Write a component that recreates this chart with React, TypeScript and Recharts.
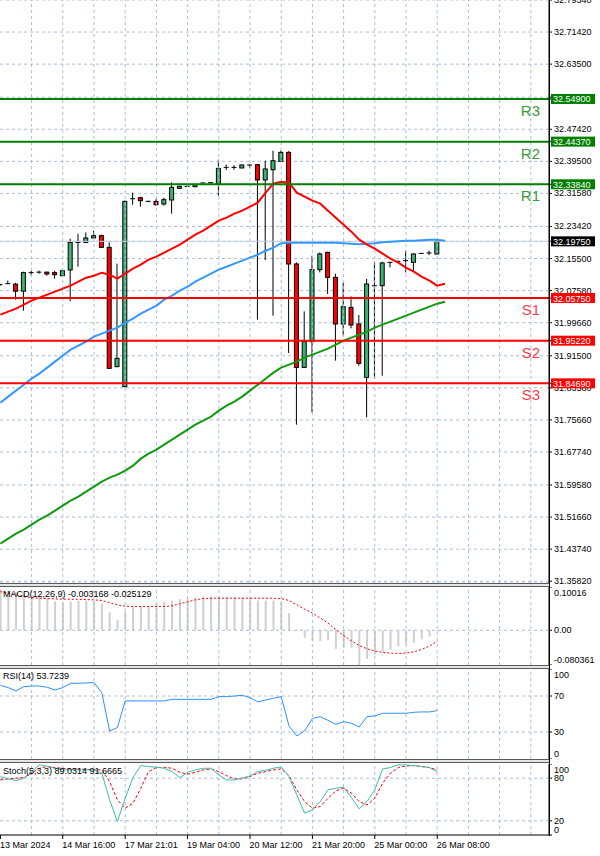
import React from 'react';
import { ComposedChart, Bar, Line, XAxis, YAxis, CartesianGrid, ReferenceLine } from 'recharts';

// ---------- categories / ticks ----------
const timeTickBars = [0, 8, 16, 24, 32, 40, 48, 56];
const timeTickLabels = ['13 Mar 2024', '14 Mar 16:00', '17 Mar 21:01', '19 Mar 04:00', '20 Mar 12:00', '21 Mar 20:00', '25 Mar 00:00', '26 Mar 08:00'];
const gridBars = [4, 8, 12, 16, 20, 24, 28, 32, 36, 40, 44, 48, 52, 56, 60, 64, 68];

// ---------- candles ----------
const openP = [32.0905, 32.0930, 32.0917, 32.0745, 32.1202, 32.1214, 32.1214, 32.1202, 32.1128, 32.1268,
  32.1949, 32.1949, 32.2058, 32.2115, 32.1826, 31.8881, 31.8387, 32.3028, 32.3053, 32.2962,
  32.2962, 32.2897, 32.2996, 32.3283, 32.3332, 32.3325, 32.3416, 32.3423, 32.3391, 32.3801,
  32.3801, 32.3786, 32.3860, 32.3868, 32.3490, 32.3744, 32.3949, 32.4172, 32.1416, 31.8863,
  31.9498, 32.1276, 32.1702, 32.1085, 31.9935, 32.0344, 31.9935, 31.8616, 32.0880, 32.0880,
  32.1456, 32.1480, 32.1498, 32.1456, 32.1678, 32.1688, 32.1663];
const highP = [32.0930, 32.1004, 32.0954, 32.1226, 32.1251, 32.1251, 32.1226, 32.1251, 32.1276, 32.2040,
  32.2164, 32.2196, 32.2238, 32.2139, 32.1949, 32.1424, 32.2979, 32.3176, 32.3077, 32.2979,
  32.3016, 32.3053, 32.3431, 32.3349, 32.3349, 32.3386, 32.3423, 32.3436, 32.3991, 32.3868,
  32.3855, 32.3880, 32.3868, 32.3880, 32.3967, 32.4213, 32.4213, 32.4201, 32.1456, 32.0246,
  32.1621, 32.1702, 32.1720, 32.1177, 32.0962, 32.0616, 32.0157, 32.1046, 32.1473, 32.1473,
  32.1461, 32.1498, 32.1744, 32.1670, 32.1683, 32.1744, 32.2016];
const lowP = [32.0880, 32.0920, 32.0535, 32.0263, 32.1128, 32.1177, 32.1128, 32.1053, 32.1103, 32.0493,
  32.1350, 32.1942, 32.2053, 32.1818, 31.8831, 31.8868, 31.8374, 32.2880, 32.2830, 32.2942,
  32.2856, 32.2856, 32.2658, 32.3275, 32.3312, 32.3312, 32.3406, 32.3411, 32.3102, 32.3737,
  32.3744, 32.3781, 32.3794, 32.0041, 32.1515, 32.0140, 32.3942, 31.9218, 31.7448, 31.8856,
  31.7752, 32.1209, 32.0675, 31.9029, 31.9646, 31.9826, 31.8905, 31.7629, 31.8592, 31.8658,
  32.1332, 32.1461, 32.1209, 32.1251, 32.1670, 32.1633, 32.1658];
const closeP = [32.0905, 32.0930, 32.0745, 32.1202, 32.1202, 32.1214, 32.1169, 32.1152, 32.1251, 32.1949,
  32.1949, 32.2058, 32.2115, 32.1826, 31.8839, 31.9086, 32.2962, 32.3028, 32.2979, 32.2962,
  32.2880, 32.3004, 32.3307, 32.3332, 32.3332, 32.3374, 32.3416, 32.3423, 32.3776, 32.3801,
  32.3801, 32.3860, 32.3860, 32.3490, 32.3762, 32.3967, 32.4172, 32.1416, 31.8863, 31.9498,
  32.1276, 32.1663, 32.1085, 31.9935, 32.0362, 31.9910, 31.8962, 32.0922, 32.0880, 32.1441,
  32.1456, 32.1480, 32.1498, 32.1663, 32.1678, 32.1688, 32.1975];

// ---------- moving averages ----------
const maRed = [32.0164, 32.0238, 32.0312, 32.0411, 32.0510, 32.0584, 32.0658, 32.0732, 32.0806, 32.0880,
  32.0979, 32.1078, 32.1127, 32.1201, 32.1152, 32.1053, 32.1177, 32.1300, 32.1399, 32.1522,
  32.1596, 32.1695, 32.1794, 32.1893, 32.2016, 32.2140, 32.2238, 32.2362, 32.2485, 32.2559,
  32.2658, 32.2732, 32.2831, 32.2930, 32.3177, 32.3399, 32.3448, 32.3423, 32.3177, 32.3078,
  32.2979, 32.2905, 32.2732, 32.2559, 32.2386, 32.2214, 32.2016, 32.1893, 32.1794, 32.1670,
  32.1547, 32.1448, 32.1325, 32.1226, 32.1103, 32.1004, 32.0880, 32.0930];
const maBlue = [31.7992, 31.8140, 31.8288, 31.8436, 31.8584, 31.8708, 31.8856, 31.9004, 31.9152, 31.9300,
  31.9399, 31.9498, 31.9621, 31.9695, 31.9769, 31.9843, 31.9967, 32.0066, 32.0189, 32.0288,
  32.0387, 32.0535, 32.0633, 32.0757, 32.0856, 32.0979, 32.1078, 32.1177, 32.1275, 32.1349,
  32.1424, 32.1498, 32.1572, 32.1646, 32.1744, 32.1819, 32.1930, 32.1942, 32.1942, 32.1942,
  32.1942, 32.1942, 32.1942, 32.1942, 32.1930, 32.1917, 32.1905, 32.1917, 32.1930, 32.1954,
  32.1967, 32.1979, 32.1991, 32.1991, 32.2004, 32.2016, 32.2016, 32.1991];
const maGreen = [31.4510, 31.4634, 31.4757, 31.4856, 31.4979, 31.5103, 31.5202, 31.5325, 31.5449, 31.5572,
  31.5671, 31.5794, 31.5918, 31.6041, 31.6140, 31.6214, 31.6313, 31.6436, 31.6609, 31.6732,
  31.6831, 31.6955, 31.7078, 31.7202, 31.7325, 31.7448, 31.7547, 31.7646, 31.7794, 31.7918,
  31.8016, 31.8140, 31.8288, 31.8436, 31.8584, 31.8732, 31.8856, 31.8930, 31.9004, 31.9103,
  31.9177, 31.9251, 31.9325, 31.9424, 31.9522, 31.9596, 31.9671, 31.9745, 31.9843, 31.9917,
  31.9992, 32.0066, 32.0140, 32.0214, 32.0288, 32.0362, 32.0436, 32.0485];

// ---------- MACD ----------
const macdMain = [0.0950, 0.0920, 0.0880, 0.0850, 0.0810, 0.0780, 0.0750, 0.0666, 0.0643, 0.0666,
  0.0681, 0.0681, 0.0681, 0.0612, 0.0413, 0.0230, 0.0436, 0.0536, 0.0551, 0.0566,
  0.0612, 0.0658, 0.0689, 0.0719, 0.0742, 0.0765, 0.0780, 0.0780, 0.0780, 0.0780,
  0.0780, 0.0765, 0.0742, 0.0689, 0.0689, 0.0689, 0.0666, 0.0398, 0.0015, -0.0176,
  -0.0252, -0.0252, -0.0230, -0.0429, -0.0405, -0.0405, -0.0804, -0.0660, -0.0560, -0.0500,
  -0.0460, -0.0370, -0.0345, -0.0290, -0.0210, -0.0145, -0.003168];
const macdSignal = [0.0895, 0.0857, 0.0819, 0.0780, 0.0757, 0.0742, 0.0734, 0.0727, 0.0719, 0.0719,
  0.0719, 0.0711, 0.0704, 0.0689, 0.0643, 0.0589, 0.0558, 0.0551, 0.0551, 0.0551,
  0.0551, 0.0551, 0.0566, 0.0612, 0.0658, 0.0704, 0.0734, 0.0742, 0.0742, 0.0742,
  0.0742, 0.0742, 0.0742, 0.0742, 0.0742, 0.0742, 0.0734, 0.0689, 0.0589, 0.0490,
  0.0398, 0.0283, 0.0168, 0.0015, -0.0122, -0.0245, -0.0352, -0.0428, -0.0482, -0.0513,
  -0.0528, -0.0536, -0.0528, -0.0497, -0.0444, -0.0367, -0.025129];

// ---------- RSI ----------
const rsiValues = [81.9, 79.3, 75.6, 80.4, 81.1, 81.1, 79.7, 76.7, 79.3, 84.1,
  84.1, 84.5, 84.9, 73.7, 31.1, 34.9, 64.5, 64.5, 64.5, 64.5,
  64.5, 64.5, 66.3, 66.3, 66.3, 66.3, 66.3, 66.3, 69.3, 69.3,
  70.0, 70.8, 68.2, 63.4, 65.6, 67.4, 69.3, 36.7, 25.6, 31.1,
  44.9, 47.1, 43.0, 38.6, 41.5, 39.7, 35.6, 47.1, 47.8, 50.8,
  50.8, 50.8, 50.8, 51.9, 52.3, 52.3, 53.7239];

// ---------- Stochastic ----------
const stochMain = [82.3, 79.0, 76.7, 80.0, 89.3, 98.7, 96.8, 94.0, 91.7, 91.7,
  91.7, 91.7, 91.7, 87.0, 49.5, 19.0, 51.8, 80.9, 97.8, 96.4,
  95.4, 94.0, 89.3, 80.9, 88.4, 91.7, 94.0, 94.0, 84.6, 77.6,
  77.6, 80.0, 83.2, 89.3, 91.2, 94.0, 95.9, 82.3, 56.5, 30.7,
  35.4, 47.1, 63.5, 65.9, 67.3, 52.8, 36.8, 47.1, 63.5, 93.1,
  95.0, 98.7, 98.7, 97.8, 96.4, 95.0, 89.0314];
const stochSignal = [77.6, 79.0, 80.0, 80.9, 87.0, 94.0, 96.4, 95.0, 94.0, 93.1,
  93.1, 92.6, 91.7, 91.7, 75.3, 49.5, 37.8, 44.8, 65.9, 89.3,
  95.0, 95.4, 94.0, 88.4, 85.6, 88.4, 91.7, 93.1, 89.3, 83.7,
  79.0, 79.0, 82.3, 87.0, 89.3, 91.7, 93.1, 83.7, 63.5, 47.1,
  37.8, 40.1, 51.8, 62.1, 65.9, 58.9, 47.1, 42.4, 51.8, 72.9,
  87.0, 95.0, 97.3, 97.8, 96.4, 95.0, 91.6665];

// ---------- axes / levels ----------
const priceTicks = [32.7934, 32.7142, 32.635, 32.5534, 32.4742, 32.395, 32.3158, 32.2342, 32.155, 32.0758,
  31.9966, 31.915, 31.8358, 31.7566, 31.6774, 31.5958, 31.5166, 31.4374, 31.3582];
const levelNames = ['R3', 'R2', 'R1', 'S1', 'S2', 'S3'];
const levelValues = [32.549, 32.4437, 32.3384, 32.0575, 31.9522, 31.8469];
const lastPrice = 32.1975;
const macdTicks = [0.10016, 0, -0.080361];
const macdTickLabels = ['0.10016', '0.00', '-0.080361'];
const rsiTicks = [100, 70, 30, 0];
const rsiTickLabels = ['100', '70', '30', '0'];
const stochTicks = [100, 80, 20, 0];
const stochTickLabels = ['100', '80', '20', '0'];
const macdLegend = 'MACD(12,26,9) -0.003168 -0.025129';
const rsiLegend = 'RSI(14) 53.7239';
const stochLegend = 'Stoch(5,3,3) 89.0314 91.6665';

// ---------- layout constants ----------
const X_DOMAIN: [number, number] = [-0.05, 70.33];
const MAIN_MAX = 32.7934;
const MAIN_MIN = 31.3539;
const GRID = '#a9bddc';
const FONT = "'Liberation Sans', Arial, sans-serif";
const M = { top: 0, right: 0, bottom: 0, left: 0 };

// main axis ticks: ordinary price ticks first, then boxed level prices (drawn on top)
const mainAxisTicks = [...priceTicks, ...levelValues, lastPrice];

const rows = maRed.map((_, i) => ({
  i,
  o: openP[i],
  h: highP[i],
  l: lowP[i],
  c: closeP[i],
  range: i < openP.length ? [lowP[i], highP[i]] : undefined,
  maRed: maRed[i],
  maBlue: maBlue[i],
  maGreen: maGreen[i],
  macd: macdMain[i],
  signal: macdSignal[i],
  rsi: rsiValues[i],
  k: stochMain[i],
  d: stochSignal[i],
}));

const Candle = (props: any) => {
  const { x, y, width, height, payload } = props;
  if (!payload || payload.o == null || x == null) return null;
  const { o, h, l, c } = payload;
  const top = Math.min(y, y + height);
  const span = Math.abs(height);
  const ppu = h > l ? span / (h - l) : 0;
  const yO = top + (h - o) * ppu;
  const yC = top + (h - c) * ppu;
  const cx = x + width / 2;
  const bTop = Math.min(yO, yC);
  const bH = Math.abs(yO - yC);
  return (
    <g>
      <line x1={cx} x2={cx} y1={top} y2={top + span} stroke="#000" strokeWidth={1} />
      {bH < 1 ? (
        <line x1={cx - 2.5} x2={cx + 2.5} y1={yO} y2={yO} stroke="#000" strokeWidth={1} />
      ) : (
        <rect x={cx - 2} y={bTop} width={4} height={bH} fill={c > o ? '#3cb371' : '#ff0000'} stroke="#000" strokeWidth={1} />
      )}
    </g>
  );
};

const makeLevelLabel = (name: string, isR: boolean) => (props: any) => {
  const vb = props.viewBox || {};
  const x = vb.x || 0;
  const y = vb.y || 0;
  const w = vb.width || 0;
  return (
    <text x={x + w - 9} y={y + 17} textAnchor="end" fontSize={15} fontFamily={FONT} fill={isR ? '#3a9a3a' : '#ff3b4b'}>{name}</text>
  );
};

const PriceTick = (props: any) => {
  const { x, y, payload } = props;
  const v = Number(payload.value);
  const li = levelValues.indexOf(v);
  const isLast = v === lastPrice;
  if (li >= 0 || isLast) {
    const bg = isLast ? '#000' : li < 3 ? '#008000' : '#ff0000';
    return (
      <g>
        <rect x={x - 3} y={y - 5} width={44} height={10} fill={bg} />
        <text x={x - 1} y={y + 3.5} fontSize={9} fontFamily={FONT} fill="#fff" textAnchor="start">{v.toFixed(5)}</text>
      </g>
    );
  }
  return (
    <text x={x} y={y + 3} fontSize={9} fontFamily={FONT} fill="#000" textAnchor="start">{v.toFixed(5)}</text>
  );
};

const makeSideTick = (ticks: number[], labels: string[]) => (props: any) => {
  const { x, y, payload } = props;
  const idx = ticks.indexOf(payload.value);
  const max = Math.max(...ticks);
  const min = Math.min(...ticks);
  const dy = payload.value === max ? 6 : payload.value === min ? -5 : 0;
  return (
    <text x={x} y={y + dy + 3} fontSize={9} fontFamily={FONT} fill="#000" textAnchor="start">{idx >= 0 ? labels[idx] : ''}</text>
  );
};

const TimeTick = (props: any) => {
  const { x, y, payload } = props;
  const idx = timeTickBars.indexOf(payload.value);
  return (
    <text x={x - 0.5} y={y + 7} fontSize={9} fontFamily={FONT} fill="#000" textAnchor="start">{idx >= 0 ? timeTickLabels[idx] : ''}</text>
  );
};

const vGrid = (prefix: string) =>
  gridBars.map((g) => <ReferenceLine key={prefix + g} x={g} stroke={GRID} strokeDasharray="3 3" />);

const legendStyle: React.CSSProperties = {
  position: 'absolute',
  left: 3,
  fontSize: 9,
  lineHeight: '11px',
  fontFamily: FONT,
  color: '#000',
  whiteSpace: 'nowrap',
  pointerEvents: 'none',
};

const sepStyle = (top: number, height: number): React.CSSProperties => ({
  position: 'absolute',
  left: 0,
  top,
  width: 550,
  height: height - 2,
  borderTop: '1px solid #5a5a5a',
  borderBottom: '1px solid #5a5a5a',
  background: '#e4e4e4',
});

export default function App() {
  return (
    <div style={{ position: 'absolute', left: 0, top: 0, width: 600, height: 856, background: '#fff', overflow: 'hidden', fontFamily: FONT }}>
      {/* main price panel */}
      <div style={{ position: 'absolute', left: 0, top: 0 }}>
        <ComposedChart width={600} height={592} data={rows} margin={{ top: 0, right: 0, bottom: 9, left: 0 }}>
          <CartesianGrid vertical={false} stroke={GRID} strokeDasharray="3 3" />
          {vGrid('m')}
          <XAxis type="number" dataKey="i" domain={X_DOMAIN} allowDataOverflow hide />
          <YAxis
            orientation="right"
            type="number"
            domain={[MAIN_MIN, MAIN_MAX]}
            allowDataOverflow
            ticks={mainAxisTicks}
            interval={0}
            width={51}
            axisLine={{ stroke: '#000' }}
            tickLine={{ stroke: '#000' }}
            tickSize={3}
            tickMargin={2}
            tick={<PriceTick />}
          />
          <ReferenceLine y={lastPrice} stroke="#c3cfe3" strokeWidth={1} />
          <Bar dataKey="range" barSize={5} shape={<Candle />} isAnimationActive={false} />
          <Line type="linear" dataKey="maGreen" stroke="#109a10" strokeWidth={2} dot={false} activeDot={false} isAnimationActive={false} />
          <Line type="linear" dataKey="maBlue" stroke="#3399ff" strokeWidth={2} dot={false} activeDot={false} isAnimationActive={false} />
          <Line type="linear" dataKey="maRed" stroke="#ff0000" strokeWidth={2} dot={false} activeDot={false} isAnimationActive={false} />
          {levelValues.map((v, k) => (
            <ReferenceLine
              key={levelNames[k]}
              y={v}
              stroke={k < 3 ? '#008000' : '#ff0000'}
              strokeWidth={2}
              label={makeLevelLabel(levelNames[k], k < 3)}
            />
          ))}
        </ComposedChart>
      </div>

      <div style={sepStyle(583, 4)} />

      {/* MACD panel */}
      <div style={{ position: 'absolute', left: 0, top: 587 }}>
        <ComposedChart width={600} height={78} data={rows} margin={M}>
          {vGrid('a')}
          <ReferenceLine y={0} stroke={GRID} strokeDasharray="3 3" />
          <XAxis type="number" dataKey="i" domain={X_DOMAIN} allowDataOverflow hide />
          <YAxis
            orientation="right"
            type="number"
            domain={[-0.080361, 0.10016]}
            allowDataOverflow
            ticks={macdTicks}
            interval={0}
            width={51}
            axisLine={{ stroke: '#000' }}
            tickLine={{ stroke: '#000' }}
            tickSize={3}
            tickMargin={2}
            tick={makeSideTick(macdTicks, macdTickLabels)}
          />
          <Bar dataKey="macd" barSize={2} fill="#cfcfcf" isAnimationActive={false} />
          <Line type="linear" dataKey="signal" stroke="#ff0000" strokeWidth={1} strokeDasharray="2 2" dot={false} activeDot={false} isAnimationActive={false} />
        </ComposedChart>
      </div>
      <div style={{ ...legendStyle, top: 589 }}>{macdLegend}</div>

      <div style={sepStyle(665, 4)} />

      {/* RSI panel */}
      <div style={{ position: 'absolute', left: 0, top: 669 }}>
        <ComposedChart width={600} height={90} data={rows} margin={M}>
          {vGrid('r')}
          <ReferenceLine y={70} stroke={GRID} strokeDasharray="3 3" />
          <ReferenceLine y={30} stroke={GRID} strokeDasharray="3 3" />
          <XAxis type="number" dataKey="i" domain={X_DOMAIN} allowDataOverflow hide />
          <YAxis
            orientation="right"
            type="number"
            domain={[0, 100]}
            allowDataOverflow
            ticks={rsiTicks}
            interval={0}
            width={51}
            axisLine={{ stroke: '#000' }}
            tickLine={{ stroke: '#000' }}
            tickSize={3}
            tickMargin={2}
            tick={makeSideTick(rsiTicks, rsiTickLabels)}
          />
          <Line type="linear" dataKey="rsi" stroke="#2f8fff" strokeWidth={1} dot={false} activeDot={false} isAnimationActive={false} />
        </ComposedChart>
      </div>
      <div style={{ ...legendStyle, top: 671 }}>{rsiLegend}</div>

      <div style={sepStyle(759, 4)} />

      {/* Stochastic panel */}
      <div style={{ position: 'absolute', left: 0, top: 764 }}>
        <ComposedChart width={600} height={92} data={rows} margin={M}>
          {vGrid('s')}
          <ReferenceLine y={80} stroke={GRID} strokeDasharray="3 3" />
          <ReferenceLine y={20} stroke={GRID} strokeDasharray="3 3" />
          <XAxis
            type="number"
            dataKey="i"
            domain={X_DOMAIN}
            allowDataOverflow
            ticks={timeTickBars}
            interval={0}
            height={21}
            axisLine={{ stroke: '#000' }}
            tickLine={{ stroke: '#000' }}
            tickSize={4}
            tickMargin={2}
            tick={<TimeTick />}
          />
          <YAxis
            orientation="right"
            type="number"
            domain={[0, 100]}
            allowDataOverflow
            ticks={stochTicks}
            interval={0}
            width={51}
            axisLine={{ stroke: '#000' }}
            tickLine={{ stroke: '#000' }}
            tickSize={3}
            tickMargin={2}
            tick={makeSideTick(stochTicks, stochTickLabels)}
          />
          <Line type="linear" dataKey="d" stroke="#ff0000" strokeWidth={1} strokeDasharray="3 2" dot={false} activeDot={false} isAnimationActive={false} />
          <Line type="linear" dataKey="k" stroke="#3dbdb0" strokeWidth={1} dot={false} activeDot={false} isAnimationActive={false} />
        </ComposedChart>
      </div>
      <div style={{ ...legendStyle, top: 766 }}>{stochLegend}</div>

      <div style={{ position: 'absolute', left: 549, top: 0, width: 1, height: 836, background: '#000' }} />
    </div>
  );
}
